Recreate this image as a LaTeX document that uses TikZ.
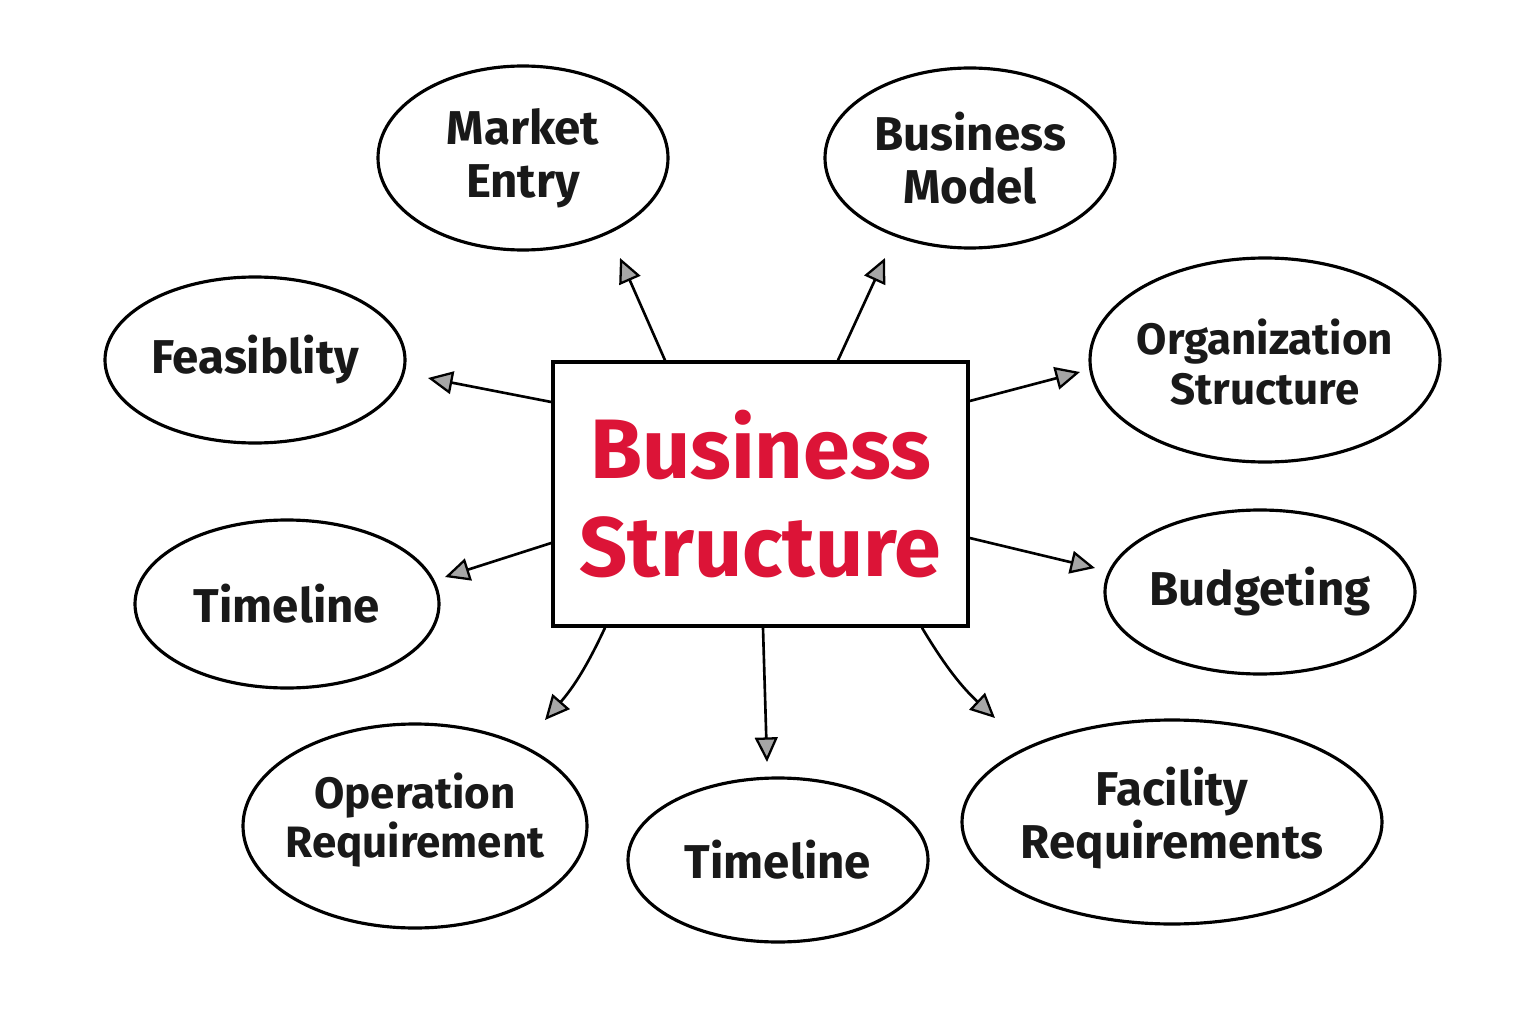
\documentclass[tikz,border=0pt]{standalone}
\usepackage{fontspec}
\setmainfont{Fira Sans}
\usetikzlibrary{shapes.geometric,arrows.meta}
\definecolor{crim}{HTML}{DC1437}
\begin{document}
\begin{tikzpicture}[x=0.02cm,y=-0.02cm,
  bub/.style={font=\fontsize{27}{30}\selectfont\bfseries,align=center,text=black!90},
  ell/.style={line width=1.8pt},
  arr/.style={line width=1.5pt,-{Triangle[length=14pt,width=13pt,line width=1.3pt,fill=black!35]}}]
\useasboundingbox (0,0) rectangle (1536,1024);
\fill[white] (0,0) rectangle (1536,1024);
\node[draw,line width=2pt,minimum width=415*0.02cm,minimum height=264*0.02cm,text=crim,font=\fontsize{48}{56}\selectfont\bfseries,align=center] (c) at (760.5,494) {Business\\Structure};
\node[bub] (me) at (523,158) {Market\\Entry};
\node[bub] (bm) at (970,158) {Business\\Model};
\node[bub] (fe) at (255,360) {Feasiblity};
\node[bub,font=\fontsize{25}{28}\selectfont\bfseries] (os) at (1265,362) {Organization\\Structure};
\node[bub] (tl) at (287,604) {Timeline};
\node[bub] (bu) at (1260,592) {Budgeting};
\node[bub,font=\fontsize{25}{28}\selectfont\bfseries] (op) at (415,820) {Operation\\Requirement};
\node[bub] (tb) at (778,860) {Timeline};
\node[bub] (fr) at (1172,818) {Facility\\Requirements};
\draw[ell] (me) ellipse (145 and 92);
\draw[ell] (bm) ellipse (145 and 90);
\draw[ell] (fe) ellipse (150 and 83);
\draw[ell] (1265,360) ellipse (175 and 102);
\draw[ell] (tl) ellipse (152 and 84);
\draw[ell] (bu) ellipse (155 and 82);
\draw[ell] (415,826) ellipse (172 and 102);
\draw[ell] (tb) ellipse (150 and 82);
\draw[ell] (1172,822) ellipse (210 and 102);
\coordinate (a1) at (620,258); \coordinate (a2) at (885,258);
\coordinate (a3) at (428,378); \coordinate (a4) at (1080,372);
\coordinate (a5) at (445,577); \coordinate (a6) at (1095,568);
\coordinate (a7) at (545,720); \coordinate (a8) at (767,762);
\coordinate (a9) at (995,718);
\draw[arr] (c.north west -| 665,0) -- (a1);
\draw[arr] (c.north west -| 838,0) -- (a2);
\draw[arr] (c.west |- 0,402) -- (a3);
\draw[arr] (c.east |- 0,401) -- (a4);
\draw[arr] (c.west |- 0,543) -- (a5);
\draw[arr] (c.east |- 0,538) -- (a6);
\draw[arr] (c.south west -| 605,0) to[bend left=8] (a7);
\draw[arr] (c.south west -| 763,0) -- (a8);
\draw[arr] (c.south west -| 922,0) to[bend right=8] (a9);
\end{tikzpicture}
\end{document}
